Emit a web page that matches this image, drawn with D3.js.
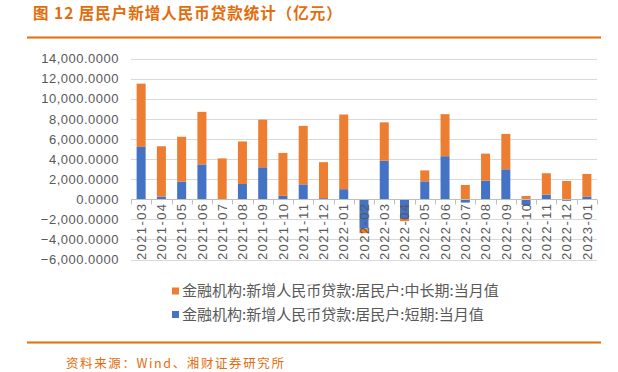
<!DOCTYPE html>
<html lang="zh">
<head>
<meta charset="UTF-8">
<title>居民户新增人民币贷款统计</title>
<script src="https://d3js.org/d3.v7.min.js"></script>
<style>
  body { margin: 0; background: #fff; }
  text { font-family: "Liberation Sans", Arial, sans-serif; }
  .cjk { font-family: "Noto Sans CJK SC", sans-serif; }
</style>
</head>
<body>
<div id="chart"></div>
<script>
// months on the x axis
const months = ["2021-03","2021-04","2021-05","2021-06","2021-07","2021-08","2021-09","2021-10","2021-11","2021-12",
  "2022-01","2022-02","2022-03","2022-04","2022-05","2022-06","2022-07","2022-08","2022-09","2022-10","2022-11","2022-12","2023-01"];
// 短期 (blue) and 中长期 (orange), 亿元
const shortTerm = [5207, 271, 1758, 3464, -21, 1520, 3180, 340, 1480, 110,
  1003, -2911, 3831, -1946, 1780, 4283, -330, 1860, 2980, -570, 460, -150, 280];
const longTerm = [6292, 5000, 4457, 5230, 4064, 4230, 4740, 4270, 5820, 3580,
  7424, -459, 3820, -224, 1090, 4179, 1420, 2680, 3520, 330, 2130, 1820, 2240];
const yTicks = [-6000, -4000, -2000, 0, 2000, 4000, 6000, 8000, 10000, 12000, 14000];
const seriesNames = ["金融机构:新增人民币贷款:居民户:中长期:当月值", "金融机构:新增人民币贷款:居民户:短期:当月值"];

const W = 618, H = 372;
const orange = "#ED7D31", blue = "#4472C4", brand = "#E46C0A";

const svg = d3.select("#chart").append("svg")
    .attr("width", W)
    .attr("height", H);

// title + rules
svg.append("text")
    .attr("class", "cjk")
    .attr("x", 33).attr("y", 19)
    .attr("font-size", 15.5)
    .attr("font-weight", 700)
    .attr("letter-spacing", 1)
    .attr("fill", brand)
    .text("图 12 居民户新增人民币贷款统计（亿元）");
svg.append("line")
    .attr("x1", 27).attr("x2", 601).attr("y1", 37.5).attr("y2", 37.5)
    .attr("stroke", brand).attr("stroke-width", 2);
svg.append("line")
    .attr("x1", 27).attr("x2", 601).attr("y1", 342.5).attr("y2", 342.5)
    .attr("stroke", brand).attr("stroke-width", 2);
svg.append("text")
    .attr("class", "cjk")
    .attr("x", 66).attr("y", 368)
    .attr("font-size", 12.5)
    .attr("letter-spacing", 1.6)
    .attr("fill", brand)
    .text("资料来源：Wind、湘财证券研究所");

// scales
const x = d3.scaleBand().domain(months).range([131, 597]);
const y = d3.scaleLinear().domain([-6000, 14000]).range([259.6, 58.5]);

// gridlines
svg.append("g").selectAll("line")
    .data(yTicks)
    .enter().append("line")
    .attr("x1", 131).attr("x2", 597)
    .attr("y1", d => Math.round(y(d)) + 0.5)
    .attr("y2", d => Math.round(y(d)) + 0.5)
    .attr("stroke", "#d9d9d9").attr("stroke-width", 1);

// y labels
svg.append("g").selectAll("text")
    .data(yTicks)
    .enter().append("text")
    .attr("x", 119)
    .attr("y", d => y(d))
    .attr("dy", "0.36em")
    .attr("text-anchor", "end")
    .attr("font-size", 13)
    .attr("letter-spacing", 0.5)
    .attr("fill", "#595959")
    .text(d => d3.format(",.4f")(d));

// stacked bars
const table = months.map((m, i) => ({month: m, short: shortTerm[i], long: longTerm[i]}));
const stacked = d3.stack()
    .keys(["short", "long"])
    .offset(d3.stackOffsetDiverging)(table);
const colors = {short: blue, long: orange};
const barW = 9;

svg.append("g").selectAll("g")
    .data(stacked)
    .enter().append("g")
    .attr("fill", s => colors[s.key])
    .selectAll("rect")
    .data(s => s)
    .enter().append("rect")
    .attr("x", d => x(d.data.month) + x.bandwidth() / 2 - barW / 2)
    .attr("width", barW)
    .attr("y", d => y(Math.max(d[0], d[1])))
    .attr("height", d => Math.abs(y(d[0]) - y(d[1])));

// zero axis with ticks
const zeroY = Math.round(y(0)) + 0.5;
svg.append("line")
    .attr("x1", 131).attr("x2", 597).attr("y1", zeroY).attr("y2", zeroY)
    .attr("stroke", "#bfbfbf");
svg.append("g").selectAll("line")
    .data(months.concat(["end"]))
    .enter().append("line")
    .attr("x1", (d, i) => Math.round(131 + i * x.step()) + 0.5)
    .attr("x2", (d, i) => Math.round(131 + i * x.step()) + 0.5)
    .attr("y1", zeroY).attr("y2", zeroY + 5)
    .attr("stroke", "#bfbfbf");

// x labels, rotated
svg.append("g").selectAll("text")
    .data(months)
    .enter().append("text")
    .attr("transform", d => "translate(" + (x(d) + x.bandwidth() / 2) + ",204) rotate(-90)")
    .attr("dy", "0.36em")
    .attr("text-anchor", "end")
    .attr("font-size", 13)
    .attr("textLength", 56)
    .attr("lengthAdjust", "spacing")
    .attr("fill", "#595959")
    .text(d => d);

// legend
const legend = svg.append("g").selectAll("g")
    .data([{name: seriesNames[0], c: orange}, {name: seriesNames[1], c: blue}])
    .enter().append("g")
    .attr("transform", (d, i) => "translate(172," + (291 + i * 23.5) + ")");
legend.append("rect")
    .attr("x", 0).attr("y", -3.5).attr("width", 7).attr("height", 7)
    .attr("fill", d => d.c);
legend.append("text")
    .attr("class", "cjk")
    .attr("x", 10).attr("dy", "0.36em")
    .attr("font-size", 15)
    .attr("fill", "#595959")
    .text(d => d.name);
</script>
</body>
</html>
